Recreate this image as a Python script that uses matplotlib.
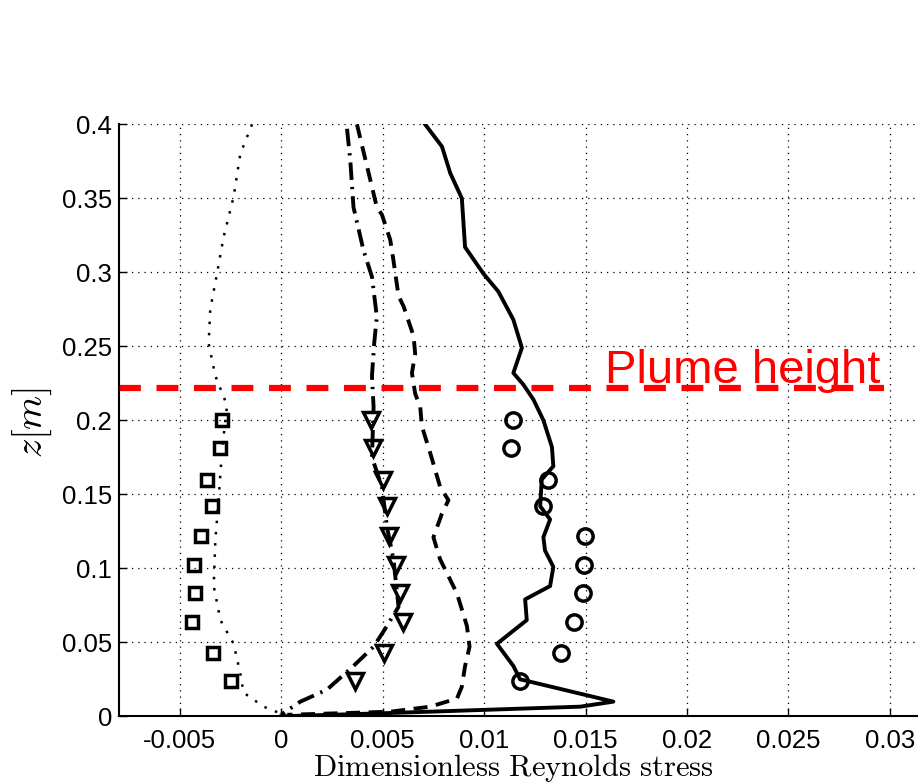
import matplotlib.pyplot as plt
from matplotlib.ticker import FuncFormatter, MultipleLocator

plt.rcParams['font.family'] = ['Liberation Sans', 'DejaVu Sans']
plt.rcParams['mathtext.fontset'] = 'cm'
plt.rcParams['axes.unicode_minus'] = False

# measured points (z in m)
z_pts = [0.200, 0.181, 0.160, 0.142, 0.122, 0.102, 0.083, 0.064, 0.043, 0.024]
sq_x = [-0.00292, -0.00304, -0.00366, -0.00340, -0.00394, -0.00432, -0.00427, -0.00440, -0.00336, -0.00246]
tri_x = [0.00442, 0.00452, 0.00500, 0.00520, 0.00530, 0.00564, 0.00586, 0.00600, 0.00507, 0.00365]
circ_x = [0.01141, 0.01133, 0.01314, 0.01292, 0.01499, 0.01491, 0.01489, 0.01443, 0.01379, 0.01177]

# model profiles
solid_x = [0.00709, 0.00792, 0.00833, 0.00890, 0.00906, 0.00997, 0.01070, 0.01144, 0.01186, 0.01144,
           0.01194, 0.01243, 0.01292, 0.01334, 0.01341, 0.01284, 0.01276, 0.01325, 0.01292, 0.01300,
           0.01341, 0.01325, 0.01202, 0.01210, 0.01063, 0.01144, 0.01177, 0.01637, 0.01473, 0.00488, 0.0]
solid_z = [0.400, 0.385, 0.367, 0.350, 0.317, 0.299, 0.287, 0.268, 0.249, 0.232,
           0.224, 0.214, 0.200, 0.182, 0.169, 0.160, 0.142, 0.133, 0.121, 0.112,
           0.101, 0.088, 0.079, 0.065, 0.049, 0.034, 0.025, 0.0099, 0.0065, 0.002, 0.0]

dash_x = [0.00373, 0.00471, 0.00496, 0.00537, 0.00553, 0.00578, 0.00603, 0.00652, 0.00660, 0.00644,
          0.00660, 0.00685, 0.00693, 0.00734, 0.00783, 0.00824, 0.00792, 0.00750, 0.00783, 0.00866,
          0.00915, 0.00928, 0.00906, 0.00890, 0.00866, 0.00734, 0.00537, 0.0003]
dash_z = [0.400, 0.344, 0.339, 0.322, 0.308, 0.284, 0.277, 0.257, 0.245, 0.232,
          0.218, 0.209, 0.196, 0.178, 0.155, 0.146, 0.137, 0.121, 0.106, 0.083,
          0.061, 0.047, 0.034, 0.020, 0.012, 0.0065, 0.0031, 0.001]

dashdot_x = [0.00324, 0.00340, 0.00356, 0.00405, 0.00447, 0.00471, 0.00458, 0.00447, 0.00455, 0.00447,
             0.00496, 0.00521, 0.00553, 0.00578, 0.00521, 0.00455, 0.00356, 0.00225, 0.00094, 0.0002, 0.0]
dashdot_z = [0.397, 0.376, 0.344, 0.315, 0.297, 0.270, 0.252, 0.230, 0.209, 0.175,
             0.155, 0.128, 0.106, 0.074, 0.061, 0.047, 0.034, 0.018, 0.0099, 0.0031, 0.001]

dot_x = [-0.00144, -0.00202, -0.00235, -0.00284, -0.00317, -0.00350, -0.00358, -0.00325, -0.00267, -0.00292,
         -0.00309, -0.00325, -0.00333, -0.00300, -0.00235, -0.00202, -0.00186, -0.00087, -0.00005]
dot_z = [0.400, 0.380, 0.351, 0.324, 0.299, 0.275, 0.252, 0.230, 0.210, 0.180,
         0.146, 0.119, 0.088, 0.065, 0.049, 0.029, 0.016, 0.0065, 0.002]

plume_z = 0.222
plume_x = [-0.008, 0.0297]

fig = plt.figure(figsize=(9.18, 7.83), dpi=100)
ax = fig.add_axes([0.1296, 0.0852, 0.884, 0.756])

ax.plot(dot_x, dot_z, color='k', ls=(0, (1, 3.5)), lw=1.8)
ax.plot(dashdot_x, dashdot_z, color='k', ls=(0, (4.5, 1.8, 0.6, 1.8)), lw=2.8)
ax.plot(dash_x, dash_z, color='k', ls=(0, (3.6, 2.2)), lw=2.8)
ax.plot(solid_x, solid_z, color='k', ls='-', lw=2.8)

ax.plot(sq_x, z_pts, ls='none', marker='s', ms=8.5, mfc='none', mec='k', mew=2.5)
ax.plot(tri_x, z_pts, ls='none', marker='v', ms=11, mfc='none', mec='k', mew=2.5)
ax.plot(circ_x, z_pts, ls='none', marker='o', ms=11, mfc='none', mec='k', mew=2.5)

ax.plot(plume_x, [plume_z, plume_z], color='red', lw=4.5, ls=(0, (3.5, 2.5)))
ax.text(0.01596, 0.2252, 'Plume height', color='red', fontsize=34, va='baseline', ha='left')

ax.set_xlim(-0.008, 0.032)
ax.set_ylim(0, 0.4)
ax.xaxis.set_major_locator(MultipleLocator(0.005))
ax.yaxis.set_major_locator(MultipleLocator(0.05))
fmt = FuncFormatter(lambda v, p: '%g' % round(v, 4))
ax.xaxis.set_major_formatter(fmt)
ax.yaxis.set_major_formatter(fmt)
ax.tick_params(direction='in', length=6, width=1, labelsize=18.5)
ax.tick_params(axis='y', pad=5)
ax.tick_params(axis='x', pad=9)
ax.grid(True, color='k', ls=(0, (1, 4)), lw=0.9)
ax.spines['top'].set_visible(False)
ax.spines['right'].set_visible(False)
ax.spines['left'].set_linewidth(1.5)
ax.spines['bottom'].set_linewidth(1.5)

fig.text(513 / 918, 7 / 783, r'$\mathrm{Dimensionless\ Reynolds\ stress}$', fontsize=22,
         ha='center', va='baseline')
fig.text(32 / 918, 1 - 422 / 783, r'$z[m]$', fontsize=28, rotation=90, ha='center', va='center')

fig.savefig('out.png', dpi=100)
